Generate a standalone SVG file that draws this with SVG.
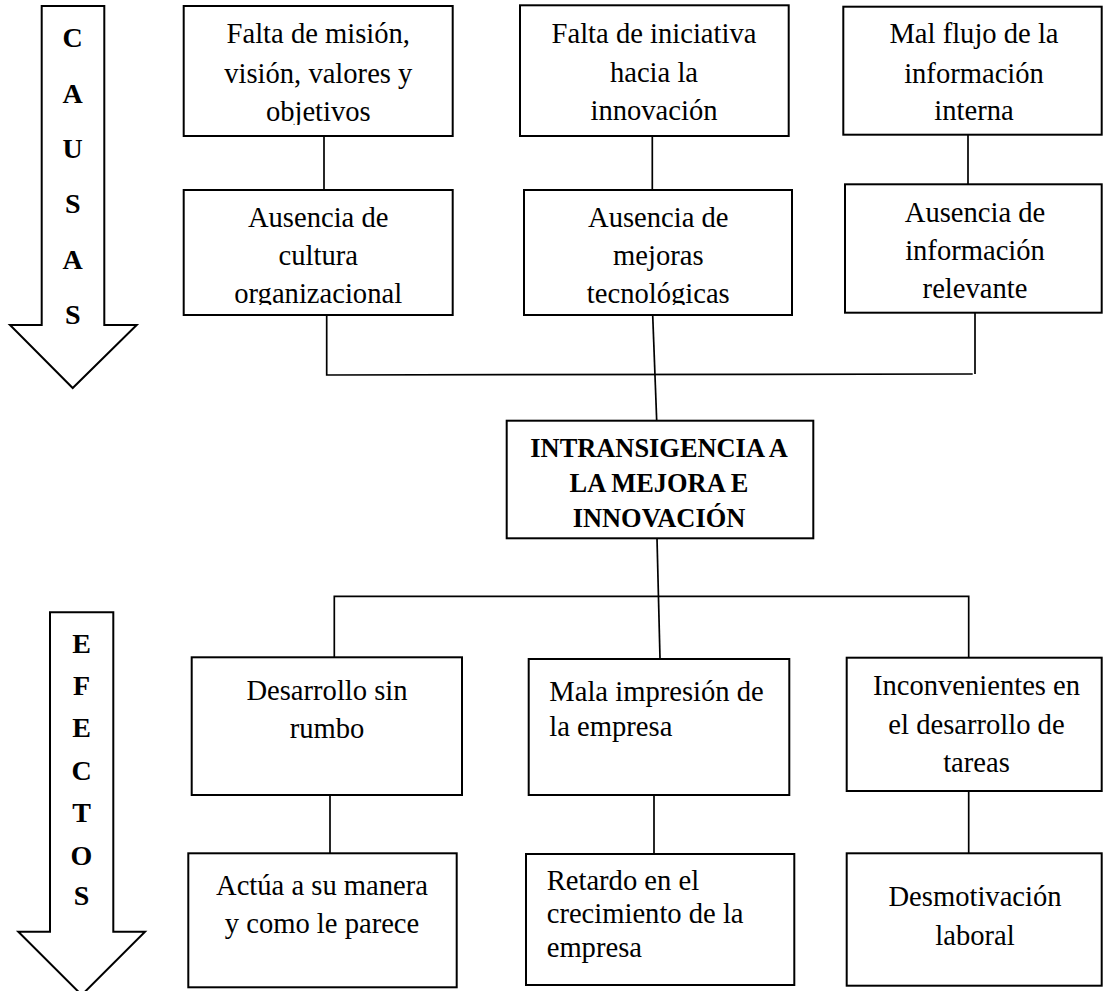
<svg xmlns="http://www.w3.org/2000/svg" width="1103" height="991" viewBox="0 0 1103 991" font-family="'Liberation Serif', serif">
<style>
  .box { fill: #ffffff; stroke: #000000; stroke-width: 2; }
  .arrow { fill: #ffffff; stroke: #000000; stroke-width: 2; stroke-linejoin: miter; }
  .conn line, .conn polyline { stroke: #000000; stroke-width: 1.7; fill: none; }
  .t { font-size: 28.6px; fill: #000000; }
  .c { text-anchor: middle; }
  .big { font-size: 28px; font-weight: bold; text-anchor: middle; fill: #000; }
  .mid { font-size: 26.4px; font-weight: bold; text-anchor: middle; fill: #000; }
</style>
<defs>
  <clipPath id="clipTop" clipPathUnits="userSpaceOnUse">
    <rect x="0" y="0" width="1103" height="125"/>
  </clipPath>
  <clipPath id="clipRow2" clipPathUnits="userSpaceOnUse">
    <rect x="0" y="140" width="1103" height="165"/>
  </clipPath>
</defs>
<rect x="0" y="0" width="1103" height="991" fill="#ffffff"/>

<g id="causas-arrow" font-family="'Liberation Serif', serif">
  <polygon class="arrow" points="41.7,6 104.3,6 104.3,325 136.7,325 72.7,388 10,325 41.7,325"/>
  <text class="big" x="72.7" y="46.7">C</text>
  <text class="big" x="72.7" y="102.5">A</text>
  <text class="big" x="72.7" y="157.5">U</text>
  <text class="big" x="72.7" y="213">S</text>
  <text class="big" x="72.7" y="268.5">A</text>
  <text class="big" x="72.7" y="323.5">S</text>
</g>

<g id="efectos-arrow" font-family="'Liberation Serif', serif">
  <polygon class="arrow" points="50,612.3 113.3,612.3 113.3,931.7 145,931.7 81.7,995 18.3,931.7 50,931.7"/>
  <text class="big" x="81.5" y="652.7">E</text>
  <text class="big" x="81.5" y="695">F</text>
  <text class="big" x="81.5" y="737">E</text>
  <text class="big" x="81.5" y="780">C</text>
  <text class="big" x="81.5" y="822">T</text>
  <text class="big" x="81.5" y="865">O</text>
  <text class="big" x="81.5" y="905">S</text>
</g>

<g class="conn" id="connectors">
  <line x1="324" y1="136" x2="324" y2="190"/>
  <line x1="652.3" y1="136" x2="652.3" y2="190"/>
  <line x1="968" y1="134.7" x2="968" y2="184.3"/>
  <polyline points="326.7,315 326.7,375 972.7,374"/>
  <line x1="975" y1="312.7" x2="975" y2="374"/>
  <line x1="652.7" y1="315" x2="656.7" y2="420.7"/>
  <line x1="657" y1="538.3" x2="660" y2="658.3"/>
  <polyline points="334.3,657.3 334.3,596.3 968.7,596.3 968.7,657.7"/>
  <line x1="330" y1="795" x2="330" y2="853.3"/>
  <line x1="654" y1="795" x2="654" y2="854"/>
  <line x1="968.7" y1="791" x2="968.7" y2="853.3"/>
</g>

<g id="n-mision" font-family="'Liberation Serif', serif">
  <rect class="box" x="183.7" y="6" width="269" height="130"/>
  <g clip-path="url(#clipTop)">
    <text class="t c" x="318.3" y="43.3">Falta de misión,</text>
    <text class="t c" x="318.3" y="82.7">visión, valores y</text>
    <text class="t c" x="318.3" y="120.5">objetivos</text>
  </g>
</g>

<g id="n-iniciativa" font-family="'Liberation Serif', serif">
  <rect class="box" x="520" y="5.3" width="268.7" height="130.7"/>
  <text class="t c" x="654" y="43">Falta de iniciativa</text>
  <text class="t c" x="654" y="82">hacia la</text>
  <text class="t c" x="654" y="120">innovación</text>
</g>

<g id="n-flujo" font-family="'Liberation Serif', serif">
  <rect class="box" x="843.3" y="6.7" width="258.4" height="128"/>
  <text class="t c" x="974" y="43">Mal flujo de la</text>
  <text class="t c" x="974" y="82.5">información</text>
  <text class="t c" x="974" y="120">interna</text>
</g>

<g id="n-cultura" font-family="'Liberation Serif', serif">
  <rect class="box" x="183.7" y="190" width="269" height="125"/>
  <g clip-path="url(#clipRow2)">
    <text class="t c" x="318.2" y="227">Ausencia de</text>
    <text class="t c" x="318.2" y="265">cultura</text>
    <text class="t c" x="318.2" y="303">organizacional</text>
  </g>
</g>

<g id="n-mejoras" font-family="'Liberation Serif', serif">
  <rect class="box" x="524" y="190" width="268" height="125"/>
  <g clip-path="url(#clipRow2)">
    <text class="t c" x="658.3" y="227">Ausencia de</text>
    <text class="t c" x="658.3" y="265">mejoras</text>
    <text class="t c" x="658.3" y="303">tecnológicas</text>
  </g>
</g>

<g id="n-relevante" font-family="'Liberation Serif', serif">
  <rect class="box" x="845" y="184.3" width="256.7" height="128.4"/>
  <text class="t c" x="975" y="221.7">Ausencia de</text>
  <text class="t c" x="975" y="259.5">información</text>
  <text class="t c" x="975" y="297.7">relevante</text>
</g>

<g id="n-central" font-family="'Liberation Serif', serif">
  <rect class="box" x="506.7" y="420.7" width="306.6" height="117.6"/>
  <text class="mid" x="659" y="456.7">INTRANSIGENCIA A</text>
  <text class="mid" x="659" y="491.7">LA MEJORA E</text>
  <text class="mid" x="659" y="526.7">INNOVACIÓN</text>
</g>

<g id="n-rumbo" font-family="'Liberation Serif', serif">
  <rect class="box" x="191.7" y="657.3" width="270.3" height="137.7"/>
  <text class="t c" x="327" y="700">Desarrollo sin</text>
  <text class="t c" x="327" y="738.3">rumbo</text>
</g>

<g id="n-impresion" font-family="'Liberation Serif', serif">
  <rect class="box" x="528.7" y="659" width="260.6" height="136"/>
  <text class="t" x="549.3" y="701">Mala impresión de</text>
  <text class="t" x="549.3" y="735.5">la empresa</text>
</g>

<g id="n-inconvenientes" font-family="'Liberation Serif', serif">
  <rect class="box" x="846.7" y="657.7" width="255" height="133.3"/>
  <text class="t c" x="976.5" y="695">Inconvenientes en</text>
  <text class="t c" x="976.5" y="734">el desarrollo de</text>
  <text class="t c" x="976.5" y="771.7">tareas</text>
</g>

<g id="n-actua" font-family="'Liberation Serif', serif">
  <rect class="box" x="188.3" y="853.3" width="268.4" height="134"/>
  <text class="t c" x="322" y="895">Actúa a su manera</text>
  <text class="t c" x="322" y="932.7">y como le parece</text>
</g>

<g id="n-retardo" font-family="'Liberation Serif', serif">
  <rect class="box" x="526" y="854" width="268.3" height="131"/>
  <text class="t" x="546.7" y="890">Retardo en el</text>
  <text class="t" x="546.7" y="923.3">crecimiento de la</text>
  <text class="t" x="546.7" y="956.7">empresa</text>
</g>

<g id="n-desmotivacion" font-family="'Liberation Serif', serif">
  <rect class="box" x="846.7" y="853.3" width="255" height="132.4"/>
  <text class="t c" x="975" y="906">Desmotivación</text>
  <text class="t c" x="975" y="945">laboral</text>
</g>
</svg>
